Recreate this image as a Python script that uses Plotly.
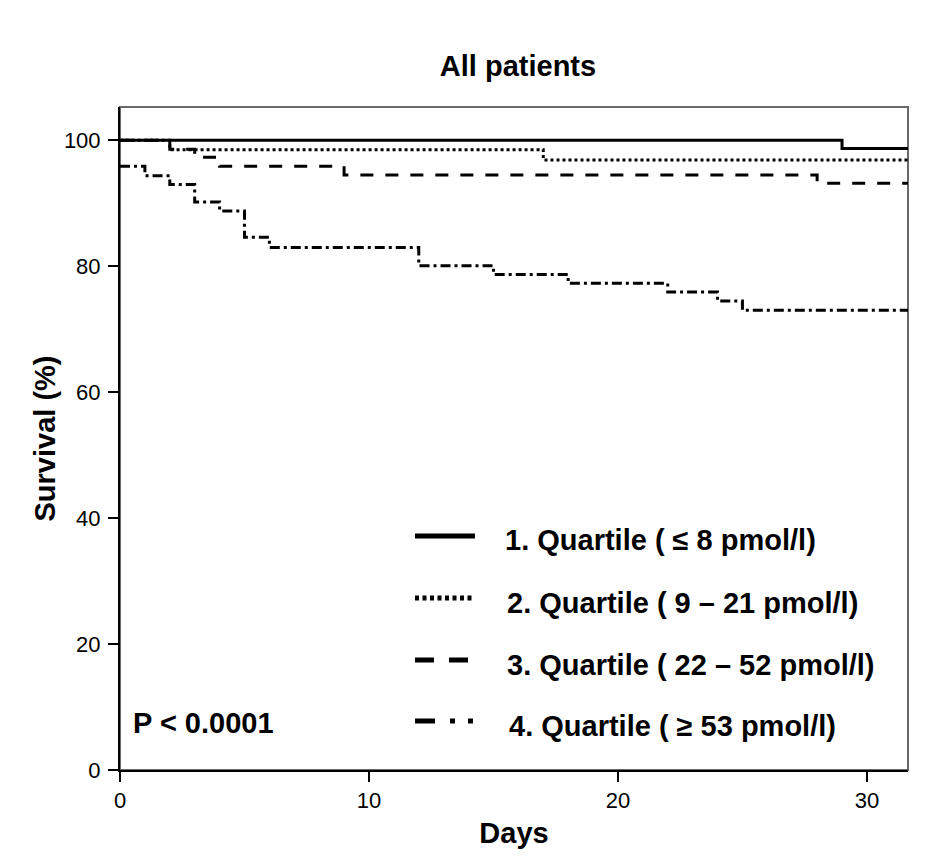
import plotly.graph_objects as go

# ---- data ----
days_q1 = [0, 29, 31.65]
surv_q1 = [100, 98.7, 98.7]

days_q2 = [0, 2, 17, 31.65]
surv_q2 = [100, 98.5, 96.9, 96.9]

days_q3 = [0, 2, 3, 4, 9, 28, 31.65]
surv_q3 = [100, 98.6, 97.3, 95.9, 94.5, 93.2, 93.2]

days_q4 = [0, 1, 2, 3, 4, 5, 6, 12, 15, 18, 22, 24, 25, 31.65]
surv_q4 = [95.9, 94.4, 93.0, 90.2, 88.8, 84.6, 83.0, 80.1, 78.7, 77.3, 75.9, 74.5, 73.0, 73.0]

series_names = [
    "1. Quartile ( \u2264 8 pmol/l)",
    "2. Quartile ( 9 \u2013 21 pmol/l)",
    "3. Quartile ( 22 \u2013 52 pmol/l)",
    "4. Quartile ( \u2265 53 pmol/l)",
]
x_ticks = [0, 10, 20, 30]
y_ticks = [0, 20, 40, 60, 80, 100]

FONT = "Liberation Sans, Arial, sans-serif"
OFF = 8  # default body margin of the html page
W, H = 926 - 2 * OFF, 868 - 2 * OFF
# plot area in page pixels: x 120..908, y 107..770
L, T = 120 - OFF, 107 - OFF
R = W - (908 - OFF)
B = H - (770 - OFF)
PW, PH = W - L - R, H - T - B


def px(xp):
    return (xp - OFF - L) / PW


def py(yp):
    return (H - B - (yp - OFF)) / PH


line_styles = [
    dict(color="black", width=3, dash="solid"),
    dict(color="black", width=3, dash="3px,3px"),
    dict(color="black", width=3, dash="13px,12px"),
    dict(color="black", width=3, dash="10px,4px,3px,4px"),
]

fig = go.Figure()
for d, s, name, ls in zip(
    [days_q1, days_q2, days_q3, days_q4],
    [surv_q1, surv_q2, surv_q3, surv_q4],
    series_names,
    line_styles,
):
    fig.add_trace(go.Scatter(x=d, y=s, mode="lines", line=ls, line_shape="hv",
                             name=name, showlegend=False))

# legend keys drawn as shapes, text as annotations
legend_rows = [536, 598, 660, 721]
legend_text_x = [503, 505, 505, 507]
legend_text_y = [540, 603, 665, 726]
legend_dash = ["solid", "4px,3.5px", "19px,15px,19px,100px", "20px,15px,5px,13px,5px,100px"]
shapes = [
    dict(type="rect", xref="paper", yref="paper", x0=0, x1=1, y0=0, y1=1,
         line=dict(color="#6a6a6a", width=2), layer="below"),
]
annotations = []
for i, name in enumerate(series_names):
    shapes.append(dict(type="line", xref="paper", yref="paper",
                       x0=px(415), x1=px(475), y0=py(legend_rows[i]), y1=py(legend_rows[i]),
                       line=dict(color="black", width=5, dash=legend_dash[i])))
    annotations.append(dict(text="<b>" + name + "</b>", xref="paper", yref="paper",
                            x=px(legend_text_x[i]), y=py(legend_text_y[i]),
                            xanchor="left", yanchor="middle", showarrow=False,
                            font=dict(family=FONT, size=29, color="black")))

annotations.append(dict(text="<b>P < 0.0001</b>", xref="paper", yref="paper",
                        x=px(131), y=py(723), xanchor="left", yanchor="middle",
                        showarrow=False, font=dict(family=FONT, size=29, color="black")))

fig.update_layout(
    width=W, height=H,
    margin=dict(l=L, r=R, t=T, b=B, pad=0),
    paper_bgcolor="white", plot_bgcolor="white",
    font=dict(family=FONT, color="black"),
    title=dict(text="<b>All patients</b>", x=px(518), xref="paper", xanchor="center",
               y=1 - (66 - OFF) / H, yref="container", yanchor="middle",
               font=dict(family=FONT, size=29, color="black")),
    shapes=shapes,
    annotations=annotations,
    xaxis=dict(range=[0, 31.65], tickvals=x_ticks, ticktext=[str(v) for v in x_ticks],
               showgrid=False, zeroline=False, showline=True, linecolor="black", linewidth=2,
               ticks="outside", ticklen=10, tickwidth=2, tickcolor="black",
               tickfont=dict(family=FONT, size=22, color="black"),
               title=dict(text="<b>Days</b>", font=dict(family=FONT, size=29, color="black"),
                          standoff=10)),
    yaxis=dict(range=[0, 105.3], tickvals=y_ticks, ticktext=[str(v) for v in y_ticks],
               showgrid=False, zeroline=False, showline=True, linecolor="black", linewidth=2,
               ticks="outside", ticklen=10, tickwidth=2, tickcolor="black",
               ticklabelstandoff=3,
               tickfont=dict(family=FONT, size=22, color="black"),
               title=dict(text="<b>Survival (%)</b>", font=dict(family=FONT, size=29, color="black"),
                          standoff=0)),
)

fig.write_html("out.html")
